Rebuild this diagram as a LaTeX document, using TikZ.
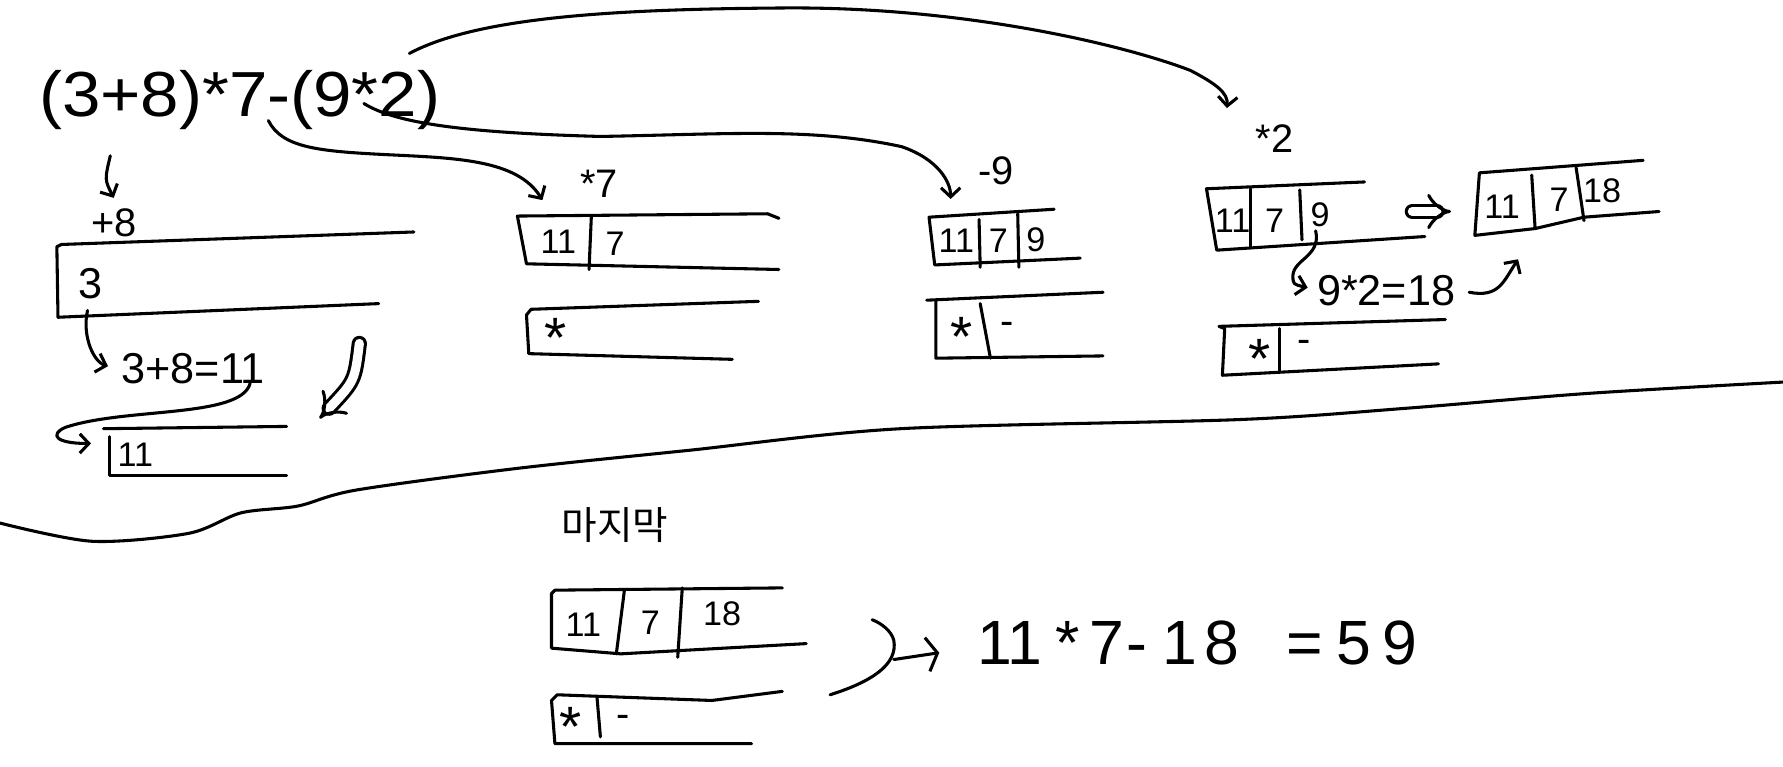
\documentclass[tikz,border=0pt]{standalone}
\usepackage{fontspec}
\setmainfont{Liberation Sans}
\newfontfamily\kr{Noto Sans CJK KR}
\usetikzlibrary{arrows.meta}
\begin{document}
\begin{tikzpicture}[x=1pt,y=-1pt,line width=2.7pt,line cap=round,line join=round,
  tip/.style={-{Straight Barb[length=8pt,width=17pt,line width=2.7pt]}},
  dbl/.style={double,double distance=8pt,line width=2.7pt,-{Implies[length=10pt]}},
  big/.style={font=\fontsize{56}{60}\selectfont,inner sep=0pt},
  res/.style={font=\fontsize{55}{60}\selectfont,inner sep=0pt},
  mid/.style={font=\fontsize{38}{42}\selectfont,inner sep=0pt},
  lab/.style={font=\fontsize{35}{38}\selectfont,inner sep=0pt},
  cell/.style={font=\fontsize{30}{34}\selectfont,inner sep=0pt},
  star/.style={font=\fontsize{50}{54}\selectfont,inner sep=0pt,yshift=-7pt},
  hangul/.style={font=\kr\fontsize{34}{38}\selectfont,inner sep=0pt}]
\useasboundingbox (0,0) rectangle (1568,674);

% ---------- expression ----------
\node[big,anchor=west] (expr) at (33,88) {\scalebox{1.085}[1]{(3+8)*7-(9*2)}};

% ---------- step +8 ----------
\coordinate (a1s) at (97,137); \coordinate (a1e) at (100,174);
\draw[tip] (a1s) .. controls (92,158) .. (a1e);
\node[lab] (p8) at (100,196) {+8};
\draw (364,204) -- (54,215) -- (50,217) -- (51,279) -- (333,267);
\node[mid] (n3) at (80,249) {3};
\coordinate (a2s) at (77,273); \coordinate (a2e) at (95,322);
\draw[tip] (a2s) .. controls (72,295) and (82,318) .. (a2e);
\node[mid] (eq1) at (170,324) {3+8=11};
\coordinate (a3s) at (220,337); \coordinate (a3e) at (80,390);
\draw[tip] (a3s) .. controls (212,368) and (110,358) .. (57,376) .. controls (44,382) and (48,390) .. (a3e);
\draw (252,375) -- (91,377);
\draw (96,384) -- (96,418) -- (252,418);
\node[cell] (n11) at (119,400) {11};
\coordinate (d1s) at (316,302); \coordinate (d1e) at (281,368);
\draw[dbl] (d1s) .. controls (312,335) .. (d1e);

% ---------- step *7 ----------
\coordinate (c7s) at (236,106); \coordinate (c7e) at (477,176);
\draw[tip] (c7s) .. controls (248,130) and (280,133) .. (340,136) .. controls (400,139) and (455,140) .. (c7e);
\node[lab] (m7) at (527,162) {*7};
\draw (685,192) -- (675,188) -- (455,190) -- (463,232) -- (685,237);
\draw (520,191) -- (518,237);
\node[cell] (b2a) at (491,213) {11};
\node[cell] (b2b) at (541,214) {7};
\draw (667,265) -- (467,272) -- (463,277) -- (465,311) -- (644,316);
\node[star] (o2a) at (489,290) {*};

% ---------- step -9 ----------
\coordinate (c9s) at (320,91); \coordinate (c9e) at (836,175);
\draw[tip] (c9s) .. controls (350,110) and (420,117) .. (528,120) .. controls (640,118) and (715,112) .. (793,129) .. controls (825,140) and (836,160) .. (c9e);
\node[lab] (m9) at (876,150) {-9};
\draw (927,184) -- (817,191) -- (822,233) -- (950,227);
\draw (861,193) -- (862,235);
\draw (895,188) -- (896,235);
\node[cell] (b3a) at (841,212) {11};
\node[cell] (b3b) at (878,212) {7};
\node[cell] (b3c) at (911,211) {9};
\draw (970,257) -- (815,264);
\draw (823,264) -- (823,315) -- (970,313);
\draw (862,267) -- (871,315);
\node[star] (o3a) at (846,289) {*};
\node[lab] (o3b) at (886,289) {-};

% ---------- step *2 ----------
\coordinate (c2s) at (360,47); \coordinate (c2e) at (1079,95);
\draw[tip] (c2s) .. controls (420,15) and (540,8) .. (691,7) .. controls (850,6) and (990,40) .. (1047,62) .. controls (1070,74) and (1080,82) .. (c2e);
\node[lab] (m2) at (1121,122) {*2};
\draw (1200,160) -- (1061,166) -- (1070,220) -- (1253,208);
\draw (1100,166) -- (1100,218);
\draw (1143,167) -- (1145,211);
\node[cell] (b4a) at (1084,194) {11};
\node[cell] (b4b) at (1121,194) {7};
\node[cell] (b4c) at (1161,189) {9};
\coordinate (c18s) at (1157,203); \coordinate (c18e) at (1150,253);
\draw[tip] (c18s) .. controls (1162,225) and (1138,228) .. (1137,242) .. controls (1137,250) .. (c18e);
\node[mid] (eq2) at (1219,256) {9*2=18};
\coordinate (c18b) at (1292,257); \coordinate (c18c) at (1335,228);
\draw[tip] (c18b) .. controls (1318,262) and (1322,248) .. (c18c);
\coordinate (d2s) at (1242,186); \coordinate (d2e) at (1276,186);
\draw[dbl] (d2s) -- (d2e);
\draw (1445,141) -- (1301,152) -- (1297,207) -- (1350,201) -- (1393,191) -- (1459,186);
\draw (1347,154) -- (1350,201);
\draw (1386,147) -- (1393,194);
\node[cell] (b5a) at (1321,182) {11};
\node[cell] (b5b) at (1371,176) {7};
\node[cell] (b5c) at (1409,168) {18};
\draw (1271,281) -- (1072,287) -- (1077,289) -- (1075,330) -- (1265,320);
\draw (1125,289) -- (1125,327);
\node[star] (o4a) at (1108,309) {*};
\node[lab] (o4b) at (1147,305) {-};

% ---------- separator ----------
\draw plot[smooth,tension=0.5] coordinates {(0,460) (81,476) (166,469) (212,451) (262,445) (313,431) (454,412) (606,396) (792,377) (1089,369) (1237,359) (1396,346) (1568,336)};

% ---------- final ----------
\node[hangul] (last) at (541,462) {마지막};
\draw (688,517) -- (488,519) -- (485,522) -- (485,570) -- (546,575) -- (600,572) -- (709,566);
\draw (549,520) -- (542,575);
\draw (600,517) -- (596,578);
\node[cell] (f1) at (513,549) {11};
\node[cell] (f2) at (572,548) {7};
\node[cell] (f3) at (635,540) {18};
\draw (688,608) -- (626,616) -- (490,611) -- (485,616) -- (488,654) -- (661,654);
\draw (525,613) -- (528,648);
\node[star] (g1) at (502,632) {*};
\node[lab] (g2) at (548,634) {-};
\coordinate (fs) at (730,611); \coordinate (fe) at (767,545);
\draw (fs) .. controls (765,600) and (790,585) .. (786,563) .. controls (784,555) and (775,548) .. (fe);
\coordinate (fa) at (786,580); \coordinate (fb) at (826,574);
\draw[-{Straight Barb[length=9pt,width=30pt,line width=2.7pt]}] (fa) -- (fb);
\node[res,anchor=west] (fres) at (858,565) {11\kern12pt*\kern8pt7\kern2pt-\kern14pt1\kern6pt8 \kern26pt=\kern12pt5\kern10pt9};
\end{tikzpicture}
\end{document}
